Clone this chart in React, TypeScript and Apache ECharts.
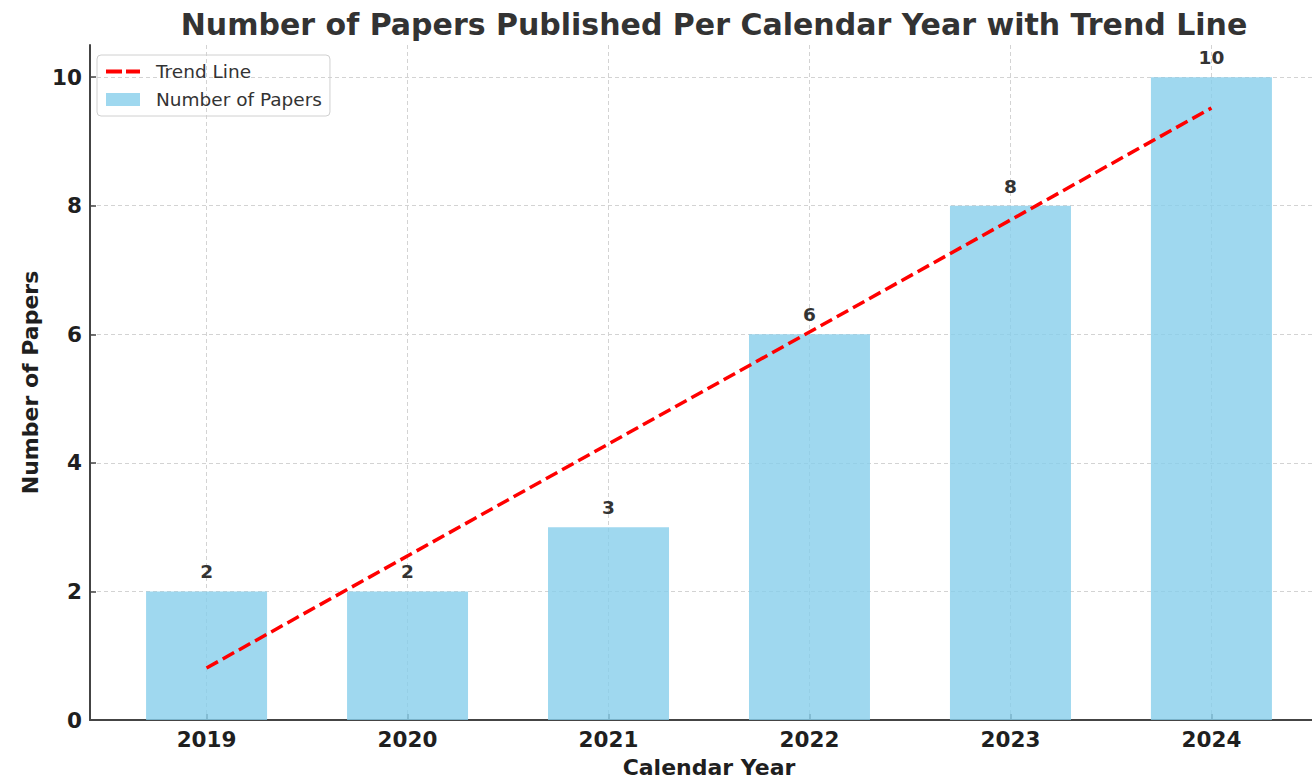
import React, { useEffect, useRef } from "react";
import * as echarts from "echarts";

const years = ["2019", "2020", "2021", "2022", "2023", "2024"];
const papers = [2, 2, 3, 6, 8, 10];
const trendX = [0, 5];
const trendY = [0.81, 9.52];
const yTicks = [0, 2, 4, 6, 8, 10];
const xTicks = [0, 1, 2, 3, 4, 5];

const FONT = "DejaVu Sans";
const TXT = "#1f1f1f";

export default function App() {
  const ref = useRef<HTMLDivElement>(null);
  useEffect(() => {
    document.body.style.margin = "0";
    const chart = echarts.init(ref.current!, null, { renderer: "svg" });
    chart.setOption({
      animation: false,
      backgroundColor: "#ffffff",
      title: {
        text: "Number of Papers Published Per Calendar Year with Trend Line",
        left: 709,
        textAlign: "center",
        top: 4,
        textStyle: { fontFamily: FONT, fontWeight: "bold", fontSize: 30, color: "#333333" },
      },
      legend: {
        orient: "vertical",
        left: 97,
        top: 55,
        data: [
          { name: "Trend Line", icon: "path://M0,0H16V4H0Z M20,0H34V4H20Z" },
          { name: "Number of Papers", icon: "rect" },
        ],
        itemWidth: 34,
        itemHeight: 13,
        itemGap: 9,
        padding: [7, 8, 7, 9],
        borderColor: "#d0d0d0",
        borderWidth: 1,
        borderRadius: 4,
        textStyle: { fontFamily: FONT, fontSize: 18.5, color: "#333333", padding: [0, 0, 0, 11] },
      },
      grid: { left: 90, top: 45, width: 1238, height: 675, outerBoundsMode: "none", containLabel: false },
      xAxis: {
        type: "value",
        min: -0.58,
        max: 5.58,
        name: "Calendar Year",
        nameLocation: "middle",
        nameGap: 36,
        nameTextStyle: { fontFamily: FONT, fontWeight: "bold", fontSize: 22, color: TXT },
        axisLine: { show: true, onZero: false, lineStyle: { color: "#444444", width: 2 } },
        axisTick: { show: true, inside: true, length: 6, customValues: xTicks, lineStyle: { color: "#444444", width: 1.5 } },
        axisLabel: {
          customValues: xTicks,
          formatter: (v: number) => years[Math.round(v)] ?? "",
          margin: 8,
          fontFamily: FONT,
          fontWeight: "bold",
          fontSize: 21.5,
          color: TXT,
        },
        splitLine: { show: true, lineStyle: { color: "#d3d3d3", type: [4, 3], width: 1 } },
      },
      yAxis: {
        type: "value",
        min: 0,
        max: 10.5,
        interval: 2,
        name: "Number of Papers",
        nameLocation: "middle",
        nameGap: 48,
        nameTextStyle: { fontFamily: FONT, fontWeight: "bold", fontSize: 22, color: TXT },
        axisLine: { show: true, onZero: false, lineStyle: { color: "#444444", width: 2 } },
        axisTick: { show: true, inside: true, length: 6, customValues: yTicks, lineStyle: { color: "#444444", width: 1.5 } },
        axisLabel: {
          customValues: yTicks,
          margin: 8,
          fontFamily: FONT,
          fontWeight: "bold",
          fontSize: 21.5,
          color: TXT,
        },
        splitLine: { show: true, lineStyle: { color: "#d3d3d3", type: [4, 3], width: 1 } },
      },
      series: [
        {
          name: "Number of Papers",
          type: "bar",
          barWidth: 121,
          data: papers.map((v, i) => [i, v]),
          itemStyle: { color: "rgba(135,206,235,0.8)" },
          label: {
            show: true,
            position: "top",
            distance: 10,
            fontFamily: FONT,
            fontWeight: "bold",
            fontSize: 18.5,
            color: "#333333",
          },
          z: 2,
        },
        {
          name: "Trend Line",
          type: "line",
          symbol: "none",
          data: trendX.map((x, i) => [x, trendY[i]]),
          itemStyle: { color: "#ff0000" },
          lineStyle: { color: "#ff0000", width: 3.5, type: [13, 5.5] },
          z: 3,
        },
      ],
    });
    return () => chart.dispose();
  }, []);
  return <div ref={ref} style={{ width: 1312, height: 778 }} />;
}
